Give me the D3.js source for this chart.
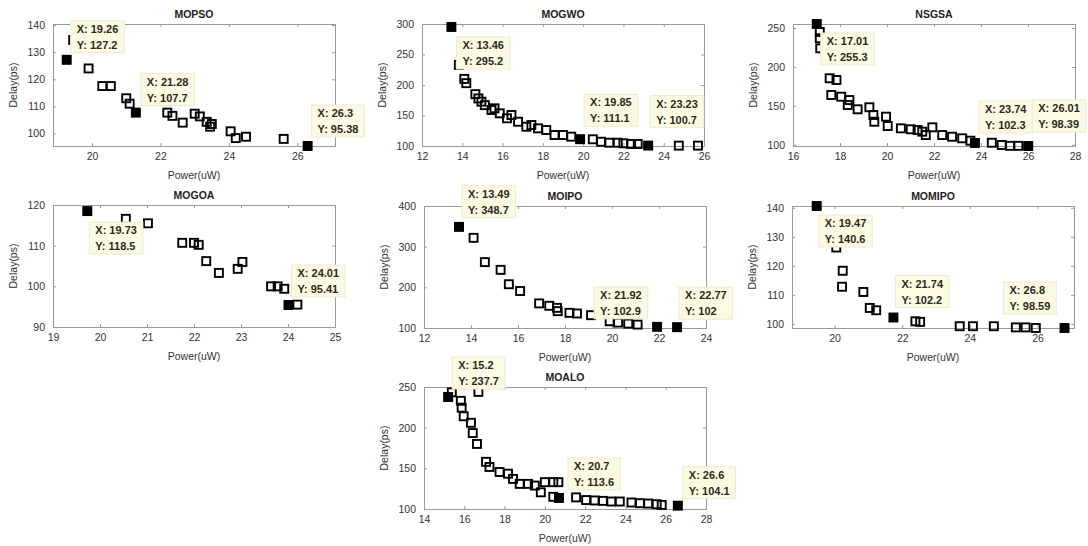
<!DOCTYPE html>
<html lang="en">
<head>
    <meta charset="UTF-8">
    <title>Pareto fronts</title>
    <style>
        body { margin: 0; background: #fff; }
        svg { font-family: "Liberation Sans", Arial, sans-serif; }
    </style>
</head>
<body>
<script src="https://d3js.org/d3.v7.min.js"></script>
<script>
    // ---- data ----
    let titles = ['MOPSO', 'MOGWO', 'NSGSA', 'MOGOA', 'MOIPO', 'MOMIPO', 'MOALO'];

    let mopsoX = [19.26, 19.45, 19.9, 20.3, 20.55, 21.0, 21.1, 21.28, 22.2, 22.35, 22.65, 23.0, 23.15, 23.35, 23.45, 23.5, 24.05, 24.2, 24.5, 25.6, 26.3];
    let mopsoY = [127.2, 134.5, 124.0, 117.5, 117.5, 113.0, 111.0, 107.7, 107.7, 106.5, 104.0, 107.3, 106.3, 104.3, 102.5, 103.5, 100.8, 98.3, 98.8, 98.0, 95.38];

    let mogwoX = [13.46, 13.83, 14.1, 14.2, 14.65, 14.8, 14.95, 15.12, 15.45, 15.6, 15.86, 16.22, 16.44, 16.77, 17.18, 17.43, 17.76, 18.17, 18.58, 19.0, 19.41, 19.85, 20.48, 20.89, 21.3, 21.72, 22.0, 22.38, 22.71, 23.23, 24.75, 25.7];
    let mogwoY = [295.2, 233, 210, 203, 185, 178, 172.7, 167, 159, 161.8, 153.6, 145.4, 150.8, 139.8, 131.6, 134.4, 129, 126.2, 118, 118, 115.3, 111.1, 111, 107, 105.4, 105.4, 104.4, 103.3, 103.3, 100.7, 100.6, 100.6];

    let nsgsaX = [17.01, 17.14, 17.14, 17.16, 17.56, 17.85, 17.63, 18.05, 18.4, 18.33, 18.75, 19.25, 19.42, 19.46, 19.96, 20.03, 20.59, 21.01, 21.3, 21.5, 21.65, 21.93, 22.35, 22.77, 23.2, 23.55, 23.74, 24.46, 24.88, 25.24, 25.59, 26.01];
    let nsgsaY = [255.3, 245, 237, 224, 185.5, 183.3, 164, 161.8, 157.5, 151.1, 145.6, 148.2, 138.3, 129.6, 136.1, 124.1, 121.1, 119.9, 119, 116.8, 112.5, 122.4, 112.5, 110.3, 108.3, 105.2, 102.3, 102.6, 99.7, 98.6, 98.6, 98.39];

    let mogoaX = [19.73, 20.55, 21.02, 21.75, 22.0, 22.1, 22.26, 22.53, 22.93, 23.03, 23.64, 23.78, 23.92, 24.01, 24.2];
    let mogoaY = [118.5, 116.6, 115.5, 110.7, 110.7, 110.2, 106.2, 103.3, 104.3, 106.0, 100.0, 100.0, 99.4, 95.41, 95.5];

    let moipoX = [13.49, 14.11, 14.59, 15.26, 15.61, 16.09, 16.9, 17.33, 17.66, 17.69, 18.19, 18.51, 19.11, 19.9, 20.26, 20.69, 21.09, 21.92, 22.77];
    let moipoY = [348.7, 321.7, 262, 243, 207.6, 191, 160.5, 154.6, 149.6, 141.4, 137.3, 135.7, 131.5, 116.6, 113.3, 110.8, 108.4, 102.9, 102];

    let momipoX = [19.47, 20.05, 20.24, 20.22, 20.85, 21.04, 21.23, 21.74, 22.39, 22.53, 23.7, 24.09, 24.71, 25.36, 25.65, 25.95, 26.8];
    let momipoY = [140.6, 126.3, 118.3, 112.8, 111, 105.5, 104.7, 102.2, 100.9, 100.7, 99.2, 99.2, 99.2, 98.8, 98.8, 98.6, 98.59];

    let moaloX = [15.2, 15.38, 16.7, 15.83, 15.87, 15.97, 16.33, 16.42, 16.63, 17.08, 17.25, 17.75, 18.17, 18.42, 18.75, 19.17, 19.5, 19.8, 20.0, 20.42, 20.67, 20.42, 20.7, 21.55, 22.05, 22.47, 22.88, 23.3, 23.72, 24.3, 24.72, 25.13, 25.55, 25.8, 26.6];
    let moaloY = [237.7, 243.4, 244, 233, 224.6, 214, 206, 193.4, 180, 158, 151.7, 145.5, 143.4, 137, 130.9, 130.9, 128.8, 120.5, 133, 133, 133, 115, 113.6, 114.3, 111, 110.5, 110, 109.2, 109.2, 108, 107.1, 106.7, 105.9, 105, 104.1];

    let seriesX = [mopsoX, mogwoX, nsgsaX, mogoaX, moipoX, momipoX, moaloX];
    let seriesY = [mopsoY, mogwoY, nsgsaY, mogoaY, moipoY, momipoY, moaloY];

    // data tips (marked points)
    let tipX = [[19.26, 21.28, 26.3], [13.46, 19.85, 23.23], [17.01, 23.74, 26.01], [19.73, 24.01], [13.49, 21.92, 22.77], [19.47, 21.74, 26.8], [15.2, 20.7, 26.6]];
    let tipY = [[127.2, 107.7, 95.38], [295.2, 111.1, 100.7], [255.3, 102.3, 98.39], [118.5, 95.41], [348.7, 102.9, 102], [140.6, 102.2, 98.59], [237.7, 113.6, 104.1]];

    let xDomains = [[18.86, 27.1], [12, 26], [16, 28], [19, 25], [12, 24], [18.74, 27.08], [14, 28]];
    let yDomains = [[95.38, 140.4], [100, 300], [98.39, 255.3], [90, 120], [100, 400], [98.59, 140.6], [100, 250]];
    let xTicks = [[20, 22, 24, 26], [12, 14, 16, 18, 20, 22, 24, 26], [16, 18, 20, 22, 24, 26, 28], [19, 20, 21, 22, 23, 24, 25], [12, 14, 16, 18, 20, 22, 24], [20, 22, 24, 26], [14, 16, 18, 20, 22, 24, 26, 28]];
    let yTicks = [[100, 110, 120, 130, 140], [100, 150, 200, 250, 300], [100, 150, 200, 250], [90, 100, 110, 120], [100, 200, 300, 400], [100, 110, 120, 130, 140], [100, 150, 200, 250]];

    // ---- layout ----
    let width = 1088;
    let height = 546;
    let boxes = [
        { left: 53, top: 24 }, { left: 422, top: 24 }, { left: 793, top: 24 },
        { left: 53, top: 205 }, { left: 424, top: 206 }, { left: 792, top: 206 },
        { left: 424, top: 387 }
    ];
    let boxW = 282, boxH = 122;
    // offset of each tip box from its point, px
    let tipOffsets = [
        [[4, -39], [5, -39], [4, -41]],
        [[5, 10], [4, -45], [2, -50]],
        [[4, 9], [4, -42], [4, -46]],
        [[2, 11], [3, -40]],
        [[3, -41], [-63, -40], [2, -40]],
        [[2, 9], [2, -42], [-61, -46]],
        [[4, -40], [9, -40], [5, -39]]
    ];
    let msize = 8;
    let fmt = d3.format('~g');

    let svg = d3.select('body').append('svg')
        .attr('width', width)
        .attr('height', height);

    let render = i => {
        let b = boxes[i];
        let xScale = d3.scaleLinear().domain(xDomains[i]).range([b.left, b.left + boxW]);
        let yScale = d3.scaleLinear().domain(yDomains[i]).range([b.top + boxH, b.top]);
        let g = svg.append('g');

        g.append('rect')
            .attr('x', b.left).attr('y', b.top)
            .attr('width', boxW).attr('height', boxH)
            .attr('fill', '#fff');

        // axes, ticks inward and mirrored like matlab
        let axes = [
            [d3.axisBottom(xScale).tickValues(xTicks[i]).tickFormat(fmt).tickSizeInner(-3).tickSizeOuter(0).tickPadding(7), 'translate(0,' + (b.top + boxH) + ')'],
            [d3.axisTop(xScale).tickValues(xTicks[i]).tickSizeInner(-3).tickSizeOuter(0).tickFormat(''), 'translate(0,' + b.top + ')'],
            [d3.axisLeft(yScale).tickValues(yTicks[i]).tickFormat(fmt).tickSizeInner(-3).tickSizeOuter(0).tickPadding(8), 'translate(' + b.left + ',0)'],
            [d3.axisRight(yScale).tickValues(yTicks[i]).tickSizeInner(-3).tickSizeOuter(0).tickFormat(''), 'translate(' + (b.left + boxW) + ',0)']
        ];
        axes.forEach(a => {
            let ax = g.append('g').attr('transform', a[1]).call(a[0]);
            ax.select('.domain').remove();
            ax.selectAll('line').attr('stroke', '#9a9a9a');
            ax.selectAll('text')
                .attr('fill', '#333')
                .style('font-size', '10.5px');
        });

        g.append('rect')
            .attr('x', b.left + 0.5).attr('y', b.top + 0.5)
            .attr('width', boxW).attr('height', boxH)
            .attr('fill', 'none')
            .attr('stroke', '#9a9a9a');

        let pts = seriesX[i].map((x, j) => ({ x: x, y: seriesY[i][j] }));
        g.selectAll('rect.pt').data(pts)
            .enter()
            .append('rect')
            .attr('class', 'pt')
            .attr('x', d => xScale(d.x) - msize / 2)
            .attr('y', d => yScale(d.y) - msize / 2)
            .attr('width', msize).attr('height', msize)
            .attr('fill', 'none')
            .attr('stroke', '#000')
            .attr('stroke-width', 1.9);

        let tips = tipX[i].map((x, j) => ({ x: x, y: tipY[i][j], off: tipOffsets[i][j] }));
        g.selectAll('rect.tipPt').data(tips)
            .enter()
            .append('rect')
            .attr('class', 'tipPt')
            .attr('x', d => xScale(d.x) - msize / 2 - 0.5)
            .attr('y', d => yScale(d.y) - msize / 2 - 0.5)
            .attr('width', msize + 1).attr('height', msize + 1)
            .attr('fill', '#000');

        // title and labels
        g.append('text')
            .attr('x', b.left + boxW / 2).attr('y', b.top - 6)
            .attr('text-anchor', 'middle')
            .attr('fill', '#222')
            .style('font-size', '10.5px').style('font-weight', 'bold')
            .text(titles[i]);
        g.append('text')
            .attr('x', b.left + boxW / 2).attr('y', b.top + boxH + 33)
            .attr('text-anchor', 'middle')
            .attr('fill', '#333')
            .style('font-size', '10.5px')
            .text('Power(uW)');
        g.append('text')
            .attr('transform', 'translate(' + (b.left - 36) + ',' + (b.top + boxH / 2) + ') rotate(-90)')
            .attr('text-anchor', 'middle')
            .attr('fill', '#333')
            .style('font-size', '10.5px')
            .text('Delay(ps)');

        return tips.map(d => ({ px: xScale(d.x), py: yScale(d.y), d: d }));
    };

    let allTips = [];
    titles.forEach((t, i) => { allTips = allTips.concat(render(i)); });

    // data tips drawn last so they sit on top of everything
    let tipLayer = svg.append('g');
    allTips.forEach(t => {
        let bx = t.px + t.d.off[0], by = t.py + t.d.off[1];
        let tg = tipLayer.append('g').attr('transform', 'translate(' + bx + ',' + by + ')');
        let bg = tg.append('rect')
            .attr('fill', '#fbfbe4')
            .attr('stroke', '#ecebd0')
            .attr('stroke-width', 1);
        let lines = ['X: ' + t.d.x, 'Y: ' + t.d.y];
        let tw = 0;
        lines.forEach((s, k) => {
            let tx = tg.append('text')
                .attr('x', 6).attr('y', 12 + k * 16)
                .attr('fill', '#2b2b1a')
                .style('font-size', '11px').style('font-weight', 'bold')
                .text(s);
            tw = Math.max(tw, tx.node().getComputedTextLength());
        });
        bg.attr('width', tw + 12).attr('height', 32);
    });
</script>
</body>
</html>
